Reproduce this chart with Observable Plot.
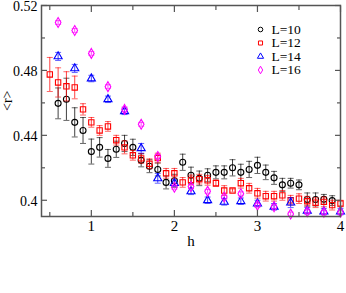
<!DOCTYPE html>
<html>
<head>
<meta charset="utf-8">
<script src="https://cdn.jsdelivr.net/npm/d3@7"></script>
<script src="https://cdn.jsdelivr.net/npm/@observablehq/plot@0.6"></script>
<style>
  html, body { margin: 0; padding: 0; background: #fff; }
  #chart { width: 346px; height: 293px; }
</style>
</head>
<body>
<div id="chart"></div>
<script>
// ---- data ----
const seriesNames = ["L=10", "L=12", "L=14", "L=16"];

const hL10 = [0.6,0.7,0.8,0.9,1.0,1.1,1.2,1.3,1.4,1.5,1.6,1.7,1.8,1.9,2.0,2.1,2.2,2.3,2.4,2.5,2.6,2.7,2.8,2.9,3.0,3.1,3.2,3.3,3.4,3.5,3.6,3.7,3.8,3.9];
const rL10 = [0.4597,0.4622,0.448,0.443,0.430,0.4326,0.4258,0.4314,0.435,0.4326,0.4246,0.421,0.419,0.411,0.412,0.4234,0.4154,0.4135,0.4154,0.4172,0.4172,0.420,0.4172,0.419,0.4215,0.4172,0.4138,0.4095,0.4105,0.4095,0.4005,0.4005,0.4006,0.3998];
const eL10 = [0.0095,0.013,0.009,0.008,0.0077,0.006,0.0055,0.005,0.005,0.005,0.004,0.004,0.004,0.004,0.004,0.005,0.005,0.0045,0.004,0.004,0.004,0.005,0.005,0.005,0.005,0.0045,0.004,0.004,0.003,0.003,0.004,0.004,0.003,0.003];

const hL12 = [0.5,0.6,0.7,0.8,0.9,1.0,1.1,1.2,1.3,1.4,1.5,1.6,1.7,1.8,1.9,2.0,2.1,2.2,2.3,2.4,2.5,2.6,2.7,2.8,2.9,3.0,3.1,3.2,3.3,3.4,3.5,3.6,3.7,3.8,3.9,4.0];
const rL12 = [0.4775,0.4726,0.4702,0.4695,0.456,0.448,0.443,0.4455,0.437,0.4326,0.4277,0.4258,0.4225,0.426,0.4166,0.4166,0.411,0.4125,0.413,0.4123,0.4105,0.406,0.406,0.4105,0.4074,0.4043,0.4025,0.4025,0.403,0.400,0.401,0.3994,0.3985,0.399,0.397,0.398];
const eL12 = [0.0105,0.009,0.009,0.007,0.0035,0.003,0.003,0.003,0.003,0.004,0.003,0.003,0.003,0.003,0.003,0.003,0.003,0.003,0.003,0.003,0.002,0.003,0.001,0.003,0.003,0.003,0.003,0.003,0.003,0.003,0.003,0.003,0.003,0.003,0.003,0.002];

const hL14 = [0.6,0.8,1.0,1.2,1.4,1.6,1.8,2.0,2.2,2.4,2.6,2.8,3.0,3.2,3.4,3.6,3.8,4.0];
const rL14 = [0.4886,0.4812,0.475,0.4622,0.4548,0.432,0.4135,0.4105,0.4055,0.400,0.399,0.3994,0.398,0.396,0.3985,0.3935,0.393,0.393];
const eL14 = [0.0025,0.0025,0.002,0.002,0.002,0.003,0.003,0.002,0.002,0.002,0.002,0.002,0.002,0.002,0.003,0.002,0.002,0.002];

const hL16 = [0.6,0.8,1.0,1.2,1.4,1.6,1.8,2.0,2.2,2.4,2.6,2.8,3.0,3.2,3.4,3.6,3.8,4.0];
const rL16 = [0.5095,0.5046,0.4905,0.470,0.456,0.4468,0.427,0.408,0.4085,0.4055,0.402,0.404,0.397,0.396,0.3915,0.393,0.3926,0.3926];
const eL16 = [0.0012,0.0012,0.0012,0.0012,0.0015,0.0012,0.0012,0.0012,0.0012,0.0012,0.0012,0.0012,0.0012,0.0012,0.0012,0.0012,0.0012,0.0012];

const xMajorTicks = [1, 2, 3, 4];
const xMinorTicks = [0.5, 1.5, 2.5, 3.5];
const yMajorTicks = [0.40, 0.44, 0.48, 0.52];
const yMinorTicks = [0.42, 0.46, 0.50];

// ---- build tables ----
const colors = ["#000000", "#ff0000", "#0000ff", "#ff00ff"];
const symbols = ["circle", "square", "triangle", "diamond"];
const hs = [hL10, hL12, hL14, hL16], rs = [rL10, rL12, rL14, rL16], es = [eL10, eL12, eL14, eL16];
const series = seriesNames.map((name, i) => ({
  name, color: colors[i], symbol: symbols[i],
  rows: hs[i].map((h, j) => ({h, r: rs[i][j], e: es[i][j]}))
}));

const cap = {draw(ctx) { ctx.moveTo(-3, 0); ctx.lineTo(3, 0); }};
const axisColor = "#555";

function tickMarks(anchor, ticks, size) {
  const opts = {anchor, ticks, tickSize: -size, tickFormat: () => "", label: null, stroke: axisColor, strokeWidth: 1.2};
  return (anchor === "top" || anchor === "bottom") ? Plot.axisX(opts) : Plot.axisY(opts);
}

const marks = [];
series.forEach(s => {
  marks.push(Plot.ruleX(s.rows, {x: "h", y1: d => d.r - d.e, y2: d => d.r + d.e, stroke: s.color, strokeOpacity: 0.75, strokeWidth: 1}));
  marks.push(Plot.dot(s.rows, {x: "h", y: d => d.r - d.e, symbol: cap, stroke: s.color, strokeOpacity: 0.6, strokeWidth: 1}));
  marks.push(Plot.dot(s.rows, {x: "h", y: d => d.r + d.e, symbol: cap, stroke: s.color, strokeOpacity: 0.6, strokeWidth: 1}));
  marks.push(Plot.dot(s.rows, {x: "h", y: "r", symbol: s.symbol, r: 3, fill: "none", stroke: s.color, strokeWidth: 1.1}));
});

// legend inside the frame
series.forEach((s, i) => {
  marks.push(Plot.dot([s], {frameAnchor: "top-right", dx: -80, dy: 24 + i * 13.5, symbol: s.symbol, r: 2.3, fill: "none", stroke: s.color, strokeWidth: 1}));
  marks.push(Plot.text([s], {frameAnchor: "top-right", dx: -69, dy: 24 + i * 13.5, text: "name", textAnchor: "start", lineAnchor: "middle", fontSize: 13.5, fill: "#000"}));
});

marks.push(
  Plot.frame({stroke: axisColor, strokeWidth: 1.5}),
  tickMarks("bottom", xMajorTicks, 6), tickMarks("bottom", xMinorTicks, 4),
  tickMarks("top", xMajorTicks, 6), tickMarks("top", xMinorTicks, 4),
  tickMarks("left", yMajorTicks, 6), tickMarks("left", yMinorTicks, 4),
  tickMarks("right", yMajorTicks, 6), tickMarks("right", yMinorTicks, 4),
  Plot.axisX({anchor: "bottom", ticks: xMajorTicks, tickSize: 0, tickPadding: 4, tickFormat: d => String(d), label: null, fontSize: 15, fill: "#000"}),
  Plot.axisY({anchor: "left", ticks: yMajorTicks, tickSize: 0, tickPadding: 4, dy: 1, tickFormat: d => String(+d.toFixed(2)), label: null, fontSize: 14, fill: "#000"}),
  Plot.text(["h"], {frameAnchor: "bottom", dy: 25, text: d => d, fontSize: 15, lineAnchor: "middle", fill: "#000"}),
  Plot.text(["<r>"], {frameAnchor: "left", dx: -34, text: d => d, rotate: -90, fontSize: 14, lineAnchor: "middle", fill: "#000"})
);

const chart = Plot.plot({
  width: 346, height: 293,
  marginLeft: 41, marginRight: 6, marginTop: 5, marginBottom: 77,
  x: {domain: [0.4, 4.0]},
  y: {domain: [0.39, 0.52]},
  style: {fontFamily: "'Liberation Serif', serif", fontSize: "14px", background: "#fff", color: "#000", overflow: "visible"},
  marks
});
document.getElementById("chart").appendChild(chart);
</script>
</body>
</html>
